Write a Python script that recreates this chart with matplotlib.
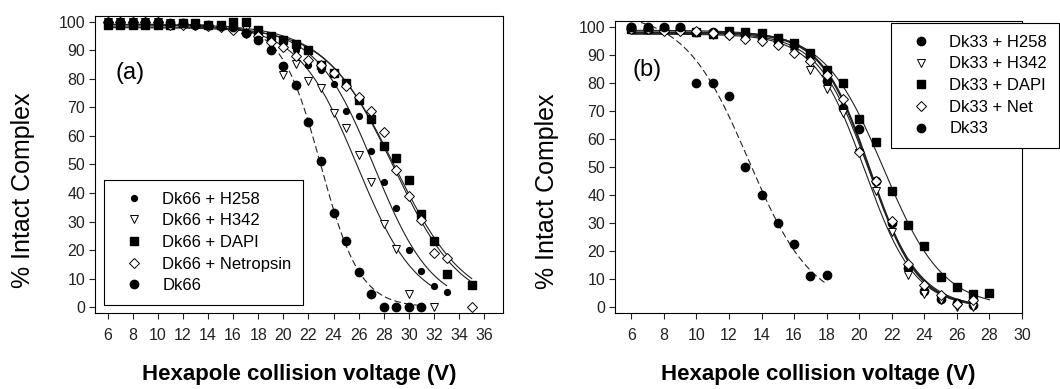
import numpy as np
import matplotlib
matplotlib.use("Agg")
import matplotlib.pyplot as plt

plt.rcParams["font.family"] = ["Liberation Sans", "DejaVu Sans"]

# ---- panel (a) data : Dk66 ----
x_a_dk66 = [6, 7, 8, 9, 10, 11, 12, 13, 14, 15, 16, 17, 18, 19, 20, 21, 22, 23, 24, 25, 26, 27, 28, 29, 30, 31]
y_a_dk66 = [100, 100, 100, 100, 100, 99.5, 99.5, 99, 99, 98.5, 98, 96, 93.5, 90, 84.6, 78, 65, 51.2, 33, 23.3, 12.5, 4.6, 0, 0, 0, 0]

x_a_h258 = [6, 7, 8, 9, 10, 11, 12, 13, 14, 15, 16, 17, 18, 19, 20, 21, 22, 23, 24, 25, 26, 27, 28, 29, 30, 31, 32, 33]
y_a_h258 = [100, 100, 99.5, 99.5, 99, 99, 99, 98.5, 98.5, 98.5, 97, 96, 95, 93.5, 92, 90, 85, 83, 78.2, 68.9, 67.1, 54.6, 43.9, 34.6, 20, 12.8, 7.5, 5.5]

x_a_h342 = [6, 7, 8, 9, 10, 11, 12, 13, 14, 15, 16, 17, 18, 19, 20, 21, 22, 23, 24, 25, 26, 27, 28, 29, 30, 32]
y_a_h342 = [100, 100, 100, 100, 100, 99.5, 99.5, 99, 99, 98.5, 98, 97.5, 96, 92, 81.4, 85.1, 79.3, 76.8, 67.9, 62.8, 53.2, 43.9, 29.1, 20.3, 4.7, 0]

x_a_dapi = [6, 7, 8, 9, 10, 11, 12, 13, 14, 15, 16, 17, 18, 19, 20, 21, 22, 23, 24, 25, 26, 27, 28, 29, 30, 31, 32, 33, 35]
y_a_dapi = [99, 99, 99, 99, 99, 99, 99.5, 99.5, 99, 99, 100, 100, 97, 95, 93.5, 92.3, 90, 85, 82, 78.7, 72.6, 66, 56.4, 52.4, 44.5, 32.8, 23.3, 11.7, 7.8]

x_a_net = [6, 7, 8, 9, 10, 11, 12, 13, 14, 15, 16, 17, 18, 19, 20, 21, 22, 23, 24, 25, 26, 27, 28, 29, 30, 31, 32, 33, 35]
y_a_net = [100, 100, 100, 100, 100, 99, 99, 99, 98.5, 98, 97, 96, 95, 93, 91, 88, 86.5, 85, 82.2, 77.6, 73.5, 68.9, 61.3, 47.9, 38.9, 30.5, 19.1, 17.2, 0]

# ---- panel (b) data : Dk33 ----
x_b_dk33 = [6, 7, 8, 9, 10, 11, 12, 13, 14, 15, 16, 17, 18]
y_b_dk33 = [100, 100, 100, 100, 80, 80, 75.2, 50.1, 40, 30, 22.4, 11.2, 11.4]

x_b_h258 = [6, 7, 8, 9, 10, 11, 12, 13, 14, 15, 16, 17, 18, 19, 20, 21, 22, 23, 24, 25, 26, 27]
y_b_h258 = [100, 99, 99, 99, 98, 98, 97.5, 97, 96, 95, 93.5, 89.6, 80.5, 71, 63.4, 45, 30, 14, 6, 3, 1.5, 1]

x_b_h342 = [6, 7, 8, 9, 10, 11, 12, 13, 14, 15, 16, 17, 18, 19, 20, 21, 22, 23, 24, 25, 26, 27]
y_b_h342 = [99, 99, 99, 98.5, 98, 97, 96.5, 95.9, 94.5, 93.5, 90.6, 84.4, 77.7, 69.3, 54.9, 41.6, 27, 11.4, 4.6, 2.6, 0, 0]

x_b_dapi = [6, 7, 8, 9, 10, 11, 12, 13, 14, 15, 16, 17, 18, 19, 20, 21, 22, 23, 24, 25, 26, 27, 28]
y_b_dapi = [99, 99, 99, 99, 98, 97.5, 98.5, 98, 97.6, 96, 94, 90.5, 84.5, 80, 67.2, 59, 41.3, 29.2, 21.7, 10.9, 7.3, 4.7, 5]

x_b_net = [6, 7, 8, 9, 10, 11, 12, 13, 14, 15, 16, 17, 18, 19, 20, 21, 22, 23, 24, 25, 26, 27]
y_b_net = [99, 99, 98.5, 98.5, 98.4, 97.6, 97, 95.5, 94.8, 93.3, 90.7, 87.7, 82.9, 74.3, 55.5, 45, 30.6, 15.6, 7.9, 4.4, 1.1, 2.6]


def boltz_fit(x, y):
    # sigmoid fit y = A / (1 + exp((x - x0) / dx)), grid search
    x = np.asarray(x, float)
    y = np.asarray(y, float)
    x0s = np.arange(x.min(), x.max(), 0.05)[:, None, None]
    dxs = np.arange(0.3, 5.0, 0.02)[None, :, None]
    f = 1.0 / (1.0 + np.exp((x[None, None, :] - x0s) / dxs))
    A = (f * y).sum(-1) / (f * f).sum(-1)
    res = ((y - A[..., None] * f) ** 2).sum(-1)
    i, j = np.unravel_index(np.argmin(res), res.shape)
    xs = np.linspace(x.min(), x.max(), 200)
    return xs, A[i, j] / (1.0 + np.exp((xs - x0s[i, 0, 0]) / dxs[0, j, 0]))


LINE = "#222222"
styles = {
    "h258_a": dict(marker="o", ms=4.2, mfc="black", mec="black"),
    "h258_b": dict(marker="o", ms=6, mfc="black", mec="black"),
    "h342": dict(marker="v", ms=6, mfc="white", mec="black", mew=0.7),
    "dapi": dict(marker="s", ms=5.3, mfc="black", mec="black"),
    "net": dict(marker="D", ms=4.6, mfc="white", mec="black", mew=0.7),
    "dk": dict(marker="o", ms=6, mfc="black", mec="black"),
}

fig = plt.figure(figsize=(10.6, 3.89), dpi=100)
ax_a = fig.add_axes([0.0896, 0.1954, 0.385, 0.7635])
ax_b = fig.add_axes([0.5802, 0.1954, 0.384, 0.7506])

series_a = [
    ("Dk66 + H258", x_a_h258, y_a_h258, "h258_a", "-"),
    ("Dk66 + H342", x_a_h342, y_a_h342, "h342", "-"),
    ("Dk66 + DAPI", x_a_dapi, y_a_dapi, "dapi", "-"),
    ("Dk66 + Netropsin", x_a_net, y_a_net, "net", "-"),
    ("Dk66", x_a_dk66, y_a_dk66, "dk", "--"),
]
series_b = [
    ("Dk33 + H258", x_b_h258, y_b_h258, "h258_b", "-"),
    ("Dk33 + H342", x_b_h342, y_b_h342, "h342", "-"),
    ("Dk33 + DAPI", x_b_dapi, y_b_dapi, "dapi", "-"),
    ("Dk33 + Net", x_b_net, y_b_net, "net", "-"),
    ("Dk33", x_b_dk33, y_b_dk33, "dk", "--"),
]

for ax, series in [(ax_a, series_a), (ax_b, series_b)]:
    for name, xs, ys, st, ls in series:
        fx, fy = boltz_fit(xs, ys)
        lw = 1.6 if name == "Dk33 + H258" else 0.8
        ax.plot(fx, fy, ls=ls, color=LINE, lw=lw, zorder=2,
                dashes=(6, 3) if ls == "--" else (None, None))
        ax.plot(xs, ys, ls="none", zorder=3, label=name, **styles[st])

    ax.set_ylim(-2, 102)
    ax.set_yticks(range(0, 101, 10))
    ax.tick_params(direction="out", length=4, width=0.8, labelsize=11.5,
                   colors="#222222", top=False, right=False)
    ax.tick_params(axis="x", pad=7)
    ax.tick_params(axis="y", pad=3)
    for sp in ax.spines.values():
        sp.set_linewidth(0.8)
    ax.set_ylabel("% Intact Complex", fontsize=18)
    ax.set_xlabel("Hexapole collision voltage (V)", fontsize=16,
                  fontweight="bold", labelpad=15)

ax_a.yaxis.set_label_coords(-0.147, 0.414)
ax_b.yaxis.set_label_coords(-0.137, 0.418)

ax_a.set_xlim(5, 37.5)
ax_a.set_xticks(range(6, 37, 2))
ax_b.set_xlim(5, 30)
ax_b.set_xticks(range(6, 31, 2))

ax_a.text(6.6, 82, "(a)", fontsize=17, va="center")
ax_b.text(6.1, 84.7, "(b)", fontsize=17, va="center")

leg_kw = dict(fontsize=12, frameon=True, fancybox=False, framealpha=1,
              edgecolor="black", borderpad=0.7, handlelength=2.2,
              handletextpad=0.6, labelspacing=0.4, borderaxespad=0)
leg_a = ax_a.legend(loc="lower left", bbox_to_anchor=(0.022, 0.027), **leg_kw)
leg_b = ax_b.legend(loc="upper left", bbox_to_anchor=(0.678, 0.993), **leg_kw)
for leg in (leg_a, leg_b):
    leg.get_frame().set_linewidth(0.8)

fig.savefig("out.png", dpi=100)
